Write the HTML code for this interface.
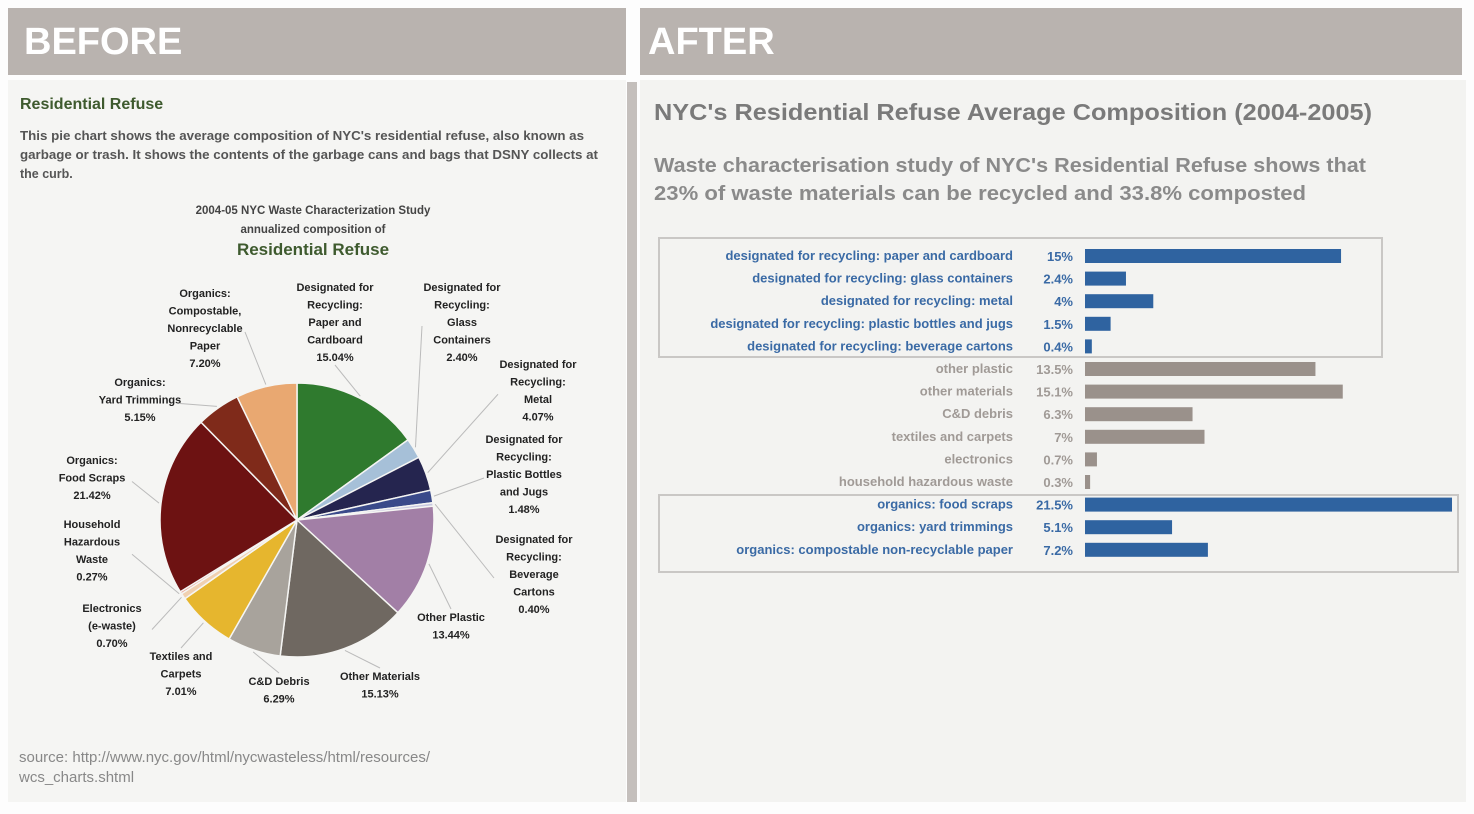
<!DOCTYPE html>
<html><head><meta charset="utf-8"><style>
html,body{margin:0;padding:0;background:#fff;}
svg{display:block;font-family:"Liberation Sans",sans-serif;}
</style></head><body>
<svg id="root" width="1474" height="814" viewBox="0 0 1474 814">
<rect x="0" y="0" width="1474" height="814" fill="#fdfdfd"/>
<rect x="8" y="80" width="618" height="722" fill="#f5f5f3"/>
<rect x="8" y="8" width="618" height="67" fill="#b9b3af"/>
<text x="24" y="54" font-size="38" font-weight="bold" fill="#fff">BEFORE</text>
<rect x="627" y="82" width="10" height="720" fill="#c4bfbc"/>
<rect x="640" y="80" width="826" height="722" fill="#f3f3f1"/>
<rect x="640" y="8" width="822" height="67" fill="#b9b3af"/>
<text x="648" y="54" font-size="38" font-weight="bold" fill="#fff">AFTER</text>

<text x="20" y="109" font-size="16" font-weight="bold" fill="#3e5a2e">Residential Refuse</text>
<g font-size="12.5" font-weight="bold" fill="#555">
<text x="20" y="140" textLength="564" lengthAdjust="spacingAndGlyphs">This pie chart shows the average composition of NYC's residential refuse, also known as</text>
<text x="20" y="159" textLength="578" lengthAdjust="spacingAndGlyphs">garbage or trash. It shows the contents of the garbage cans and bags that DSNY collects at</text>
<text x="20" y="178">the curb.</text>
</g>
<g text-anchor="middle" fill="#444">
<text x="313" y="214" font-size="11.5" font-weight="bold">2004-05 NYC Waste Characterization Study</text>
<text x="313" y="233" font-size="11.5" font-weight="bold">annualized composition of</text>
<text x="313" y="255" font-size="17" font-weight="bold" fill="#3e5a2e">Residential Refuse</text>
</g>
<g id="pie"></g>
<g id="pielabels" font-size="11" font-weight="bold" fill="#222" text-anchor="middle"></g>
<g font-size="15" fill="#888">
<text x="19" y="762">source: http://www.nyc.gov/html/nycwasteless/html/resources/</text>
<text x="19" y="782">wcs_charts.shtml</text>
</g>

<text x="654" y="120" font-size="23" font-weight="bold" fill="#7a7a7a" textLength="718" lengthAdjust="spacingAndGlyphs">NYC's Residential Refuse Average Composition (2004-2005)</text>
<g font-size="20" font-weight="bold" fill="#8a8a8a">
<text x="654" y="172" textLength="712" lengthAdjust="spacingAndGlyphs">Waste characterisation study of NYC's Residential Refuse shows that</text>
<text x="654" y="200" textLength="652" lengthAdjust="spacingAndGlyphs">23% of waste materials can be recycled and 33.8% composted</text>
</g>
<rect x="659" y="238" width="723" height="119" fill="none" stroke="#c9c7c5" stroke-width="2"/>
<rect x="659" y="495" width="799" height="77" fill="none" stroke="#c9c7c5" stroke-width="2"/>
<g id="bars"></g>
</svg>
<script>
const pieCats = ["paper and cardboard","glass containers","metal","plastic bottles and jugs","beverage cartons","other plastic","other materials","C&D debris","textiles and carpets","electronics","household hazardous waste","food scraps","yard trimmings","compostable paper"];
const pieVals = [15.04,2.40,4.07,1.48,0.40,13.44,15.13,6.29,7.01,0.70,0.27,21.42,5.15,7.20];
const pieColors = ["#2f7a2e","#a6c0d8","#25254f","#3a4a8a","#c8c8e0","#a27fa6","#6f6861","#a8a39c","#e6b62e","#f0d0b0","#e8a090","#6d1212","#7f2a1a","#e9a871"];
const pieLabels = [
 ["Designated for","Recycling:","Paper and","Cardboard","15.04%"],
 ["Designated for","Recycling:","Glass","Containers","2.40%"],
 ["Designated for","Recycling:","Metal","4.07%"],
 ["Designated for","Recycling:","Plastic Bottles","and Jugs","1.48%"],
 ["Designated for","Recycling:","Beverage","Cartons","0.40%"],
 ["Other Plastic","13.44%"],
 ["Other Materials","15.13%"],
 ["C&D Debris","6.29%"],
 ["Textiles and","Carpets","7.01%"],
 ["Electronics","(e-waste)","0.70%"],
 ["Household","Hazardous","Waste","0.27%"],
 ["Organics:","Food Scraps","21.42%"],
 ["Organics:","Yard Trimmings","5.15%"],
 ["Organics:","Compostable,","Nonrecyclable","Paper","7.20%"]
];
const labelPos = [[335,291],[462,291],[538,368],[524,443],[534,543],[451,621],[380,680],[279,685],[181,660],[112,612],[92,528],[92,464],[140,386],[205,297]];
const NS="http://www.w3.org/2000/svg";
const cx=297, cy=520, R=137;
const pie=document.getElementById('pie'), pl=document.getElementById('pielabels');
const total=pieVals.reduce((a,b)=>a+b,0);
let a0=-Math.PI/2;
pieVals.forEach((v,i)=>{
  const a1=a0+v/total*2*Math.PI;
  const x0=cx+R*Math.cos(a0), y0=cy+R*Math.sin(a0), x1=cx+R*Math.cos(a1), y1=cy+R*Math.sin(a1);
  const p=document.createElementNS(NS,'path');
  p.setAttribute('d',`M${cx},${cy}L${x0},${y0}A${R},${R} 0 ${a1-a0>Math.PI?1:0} 1 ${x1},${y1}Z`);
  p.setAttribute('fill',pieColors[i]);p.setAttribute('stroke','#f5f5f3');p.setAttribute('stroke-width','1.5');
  
  
  pie.appendChild(p);
  const am=(a0+a1)/2, ex=cx+(R+2)*Math.cos(am), ey=cy+(R+2)*Math.sin(am);
  const [lx,ly]=labelPos[i]; const n=pieLabels[i].length;
  const ln=document.createElementNS(NS,'line');
  const tx=lx+(ex>lx?40:-40)*(Math.abs(ex-lx)>40?1:0), ty=ly+(n-1)*17.5/2;
  ln.setAttribute('x1',ex);ln.setAttribute('y1',ey);ln.setAttribute('x2',Math.abs(ex-lx)>40?tx:lx);ln.setAttribute('y2',Math.abs(ex-lx)>40?ty:ly+(ey>ly?(n-1)*17.5+4:-12));
  ln.setAttribute('stroke','#bbb');ln.setAttribute('stroke-width','1');
  
  
  pie.appendChild(ln);
  const t=document.createElementNS(NS,'text');
  
  
  pieLabels[i].forEach((s,k)=>{const ts=document.createElementNS(NS,'tspan');ts.setAttribute('x',lx);ts.setAttribute('y',ly+k*17.5);ts.textContent=s;t.appendChild(ts);});
  pl.appendChild(t);
  a0=a1;
});
const barCats = ["designated for recycling: paper and cardboard","designated for recycling: glass containers","designated for recycling: metal","designated for recycling: plastic bottles and jugs","designated for recycling: beverage cartons","other plastic","other materials","C&D debris","textiles and carpets","electronics","household hazardous waste","organics: food scraps","organics: yard trimmings","organics: compostable non-recyclable paper"];
const barVals = [15,2.4,4,1.5,0.4,13.5,15.1,6.3,7,0.7,0.3,21.5,5.1,7.2];
const barGroups = ["r","r","r","r","r","o","o","o","o","o","o","c","c","c"];
const barLabels = ["15%","2.4%","4%","1.5%","0.4%","13.5%","15.1%","6.3%","7%","0.7%","0.3%","21.5%","5.1%","7.2%"];
const bars=document.getElementById('bars');
const xs=v=>v*17.07, x0b=1085, ys=i=>249+i*22.6;
barVals.forEach((v,i)=>{
  const blue=barGroups[i]!=="o";
  const y=ys(i);
  const r=document.createElementNS(NS,'rect');
  r.setAttribute('x',x0b);r.setAttribute('y',y);r.setAttribute('width',Math.max(xs(v),3));r.setAttribute('height',14);
  r.setAttribute('fill',blue?'#2f63a0':'#9a918b');
  
  
  bars.appendChild(r);
  const t=document.createElementNS(NS,'text');
  t.setAttribute('x',1013);t.setAttribute('y',y+11);t.setAttribute('text-anchor','end');t.setAttribute('font-size','13');t.setAttribute('font-weight','600');
  t.setAttribute('fill',blue?'#3a6aa5':'#a09a96');t.textContent=barCats[i];
  
  
  bars.appendChild(t);
  const vt=document.createElementNS(NS,'text');
  vt.setAttribute('x',1073);vt.setAttribute('y',y+12);vt.setAttribute('text-anchor','end');vt.setAttribute('font-size','13');vt.setAttribute('font-weight','600');
  vt.setAttribute('fill',blue?'#3a6aa5':'#a09a96');vt.textContent=barLabels[i];
  
  
  bars.appendChild(vt);
});
</script>
</body></html>
